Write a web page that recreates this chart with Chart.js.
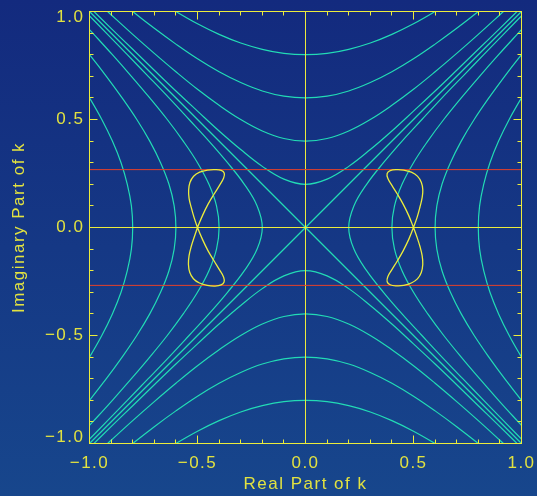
<!DOCTYPE html>
<html>
<head>
<meta charset="utf-8">
<script src="https://cdn.jsdelivr.net/npm/chart.js@4/dist/chart.umd.min.js"></script>
<style>
  html, body { margin: 0; padding: 0; }
  body {
    width: 537px; height: 496px; overflow: hidden;
    background: linear-gradient(to bottom, #132a7e 0%, #17468c 100%);
  }
  canvas { display: block; }
</style>
</head>
<body>
<canvas id="kplane" width="537" height="496"></canvas>
<script>
// Positions along each branch (the coordinate the branch opens along)
const sampleT = [-1.1, -1.0, -0.9, -0.8, -0.7, -0.6, -0.5, -0.4, -0.3, -0.2, -0.1, 0,
                  0.1, 0.2, 0.3, 0.4, 0.5, 0.6, 0.7, 0.8, 0.9, 1.0, 1.1];

// Distance of each contour branch from the axis, at the positions above
const branch02 = [1.118, 1.020, 0.922, 0.825, 0.728, 0.632, 0.539, 0.447, 0.361, 0.283, 0.224, 0.200,
                  0.224, 0.283, 0.361, 0.447, 0.539, 0.632, 0.728, 0.825, 0.922, 1.020, 1.118];
const branch04 = [1.170, 1.077, 0.985, 0.894, 0.806, 0.721, 0.640, 0.566, 0.500, 0.447, 0.412, 0.400,
                  0.412, 0.447, 0.500, 0.566, 0.640, 0.721, 0.806, 0.894, 0.985, 1.077, 1.170];
const branch06 = [1.253, 1.166, 1.082, 1.000, 0.922, 0.849, 0.781, 0.721, 0.671, 0.632, 0.608, 0.600,
                  0.608, 0.632, 0.671, 0.721, 0.781, 0.849, 0.922, 1.000, 1.082, 1.166, 1.253];
const branch08 = [1.360, 1.281, 1.204, 1.131, 1.063, 1.000, 0.943, 0.894, 0.854, 0.825, 0.806, 0.800,
                  0.806, 0.825, 0.854, 0.894, 0.943, 1.000, 1.063, 1.131, 1.204, 1.281, 1.360];

// Asymptotes (Re k = ±Im k)
const diagEnds = [-1, 1];

// Figure-eight root loop on the positive real side
const rightLoopX = [0.500, 0.478, 0.452, 0.425, 0.400, 0.381, 0.378, 0.392, 0.420, 0.455, 0.490, 0.518, 0.536, 0.543, 0.540, 0.530, 0.517, 0.500,
                    0.478, 0.452, 0.425, 0.400, 0.381, 0.378, 0.392, 0.420, 0.455, 0.490, 0.518, 0.536, 0.543, 0.540, 0.530, 0.516, 0.500];
const rightLoopY = [0.000, 0.055, 0.108, 0.155, 0.195, 0.228, 0.250, 0.263, 0.268, 0.266, 0.256, 0.238, 0.210, 0.175, 0.138, 0.095, 0.048, 0.000,
                    -0.055, -0.108, -0.155, -0.195, -0.228, -0.251, -0.265, -0.270, -0.268, -0.257, -0.238, -0.208, -0.170, -0.130, -0.088, -0.044, 0.000];

// Figure-eight root loop on the negative real side
const leftLoopX = [-0.500, -0.477, -0.451, -0.423, -0.398, -0.379, -0.376, -0.390, -0.418, -0.454, -0.490, -0.518, -0.535, -0.541, -0.539, -0.529, -0.516, -0.500,
                   -0.477, -0.451, -0.423, -0.398, -0.379, -0.377, -0.391, -0.419, -0.455, -0.491, -0.519, -0.536, -0.542, -0.539, -0.529, -0.515, -0.500];
const leftLoopY = [0.000, 0.055, 0.108, 0.155, 0.195, 0.229, 0.251, 0.264, 0.268, 0.266, 0.256, 0.237, 0.208, 0.172, 0.135, 0.093, 0.047, 0.000,
                   -0.055, -0.108, -0.155, -0.196, -0.230, -0.252, -0.266, -0.271, -0.268, -0.257, -0.237, -0.207, -0.170, -0.130, -0.088, -0.044, 0.000];

// Horizontal reference levels of Im k
const markerLevels = [0.268, -0.268];

// Axis tick values
const majorTicks = [-1.0, -0.5, 0.0, 0.5, 1.0];
const minorTicks = [-0.9, -0.8, -0.7, -0.6, -0.4, -0.3, -0.2, -0.1, 0.1, 0.2, 0.3, 0.4, 0.6, 0.7, 0.8, 0.9];

const CONTOUR = '#22dbb5';
const YELLOW = '#ecec3c';
const TEXT = '#e2e240';
const RED = '#e6402a';
const FONT = 'Liberation Sans';

function path(points, color, width, tension, order) {
  return {
    data: points, showLine: true, borderColor: color, borderWidth: width,
    tension: tension, pointRadius: 0, pointHoverRadius: 0, fill: false, order: order
  };
}

const datasets = [];
// loops on top
datasets.push(path(rightLoopX.map((v, i) => ({ x: v, y: rightLoopY[i] })), YELLOW, 1.3, 0.4, 0));
datasets.push(path(leftLoopX.map((v, i) => ({ x: v, y: leftLoopY[i] })), YELLOW, 1.3, 0.4, 0));
// reference levels and zero axes
markerLevels.forEach(level => {
  datasets.push(path(diagEnds.map(v => ({ x: v, y: level })), RED, 1, 0, 1));
});
datasets.push(path(diagEnds.map(v => ({ x: v, y: 0 })), YELLOW, 1, 0, 2));
datasets.push(path(diagEnds.map(v => ({ x: 0, y: v })), YELLOW, 1, 0, 2));
// contour branches
[branch02, branch04, branch06, branch08].forEach(b => {
  [1, -1].forEach(s => {
    datasets.push(path(sampleT.map((t, i) => ({ x: s * b[i], y: t })), CONTOUR, 1.2, 0.4, 3));
    datasets.push(path(sampleT.map((t, i) => ({ x: t, y: s * b[i] })), CONTOUR, 1.2, 0.4, 3));
  });
});
datasets.push(path(diagEnds.map(v => ({ x: v, y: v })), CONTOUR, 1.2, 0, 3));
datasets.push(path(diagEnds.map(v => ({ x: v, y: -v })), CONTOUR, 1.2, 0, 3));

function fmt(v) {
  const s = Math.abs(v).toFixed(1);
  return v < -1e-9 ? '\u2212' + s : s;
}

// wide, evenly spaced lettering for all axis text
const letterSpacing = {
  id: 'letterSpacing',
  beforeDraw(chart) { chart.ctx.letterSpacing = '1.5px'; }
};

// plot frame with inward ticks on all four sides
const frameTicks = {
  id: 'frameTicks',
  afterDatasetsDraw(chart) {
    const { ctx, chartArea: a, scales: { x, y } } = chart;
    const snap = p => Math.round(p - 0.5) + 0.5;
    ctx.save();
    ctx.strokeStyle = YELLOW;
    ctx.lineWidth = 1;
    ctx.strokeRect(a.left, a.top, a.right - a.left, a.bottom - a.top);
    ctx.beginPath();
    const mark = (v, len) => {
      const px = snap(x.getPixelForValue(v));
      const py = snap(y.getPixelForValue(v));
      ctx.moveTo(px, a.bottom); ctx.lineTo(px, a.bottom - len);
      ctx.moveTo(px, a.top); ctx.lineTo(px, a.top + len);
      ctx.moveTo(a.left, py); ctx.lineTo(a.left + len, py);
      ctx.moveTo(a.right, py); ctx.lineTo(a.right - len, py);
    };
    minorTicks.forEach(v => mark(v, 4));
    majorTicks.forEach(v => mark(v, 8));
    ctx.stroke();
    ctx.restore();
  }
};

// fixed axis box sizes, no extra room for overhanging end labels
function fixBox(size, horizontal) {
  return s => {
    if (horizontal) { s.height = size; } else { s.width = size; }
    s.paddingLeft = 0; s.paddingRight = 0; s.paddingTop = 0; s.paddingBottom = 0;
  };
}

new Chart(document.getElementById('kplane'), {
  type: 'scatter',
  data: { datasets },
  plugins: [letterSpacing, frameTicks],
  options: {
    responsive: false,
    devicePixelRatio: 1,
    animation: false,
    events: [],
    layout: { padding: { top: 11.5, right: 15.5, left: 0, bottom: 0 } },
    plugins: { legend: { display: false }, tooltip: { enabled: false } },
    scales: {
      x: {
        type: 'linear', position: 'bottom', min: -1, max: 1,
        grid: { display: false, drawTicks: false },
        border: { display: false },
        afterBuildTicks: s => { s.ticks = majorTicks.map(v => ({ value: v })); },
        afterFit: fixBox(52.5, true),
        ticks: {
          color: TEXT, padding: 9.5, maxRotation: 0, autoSkip: false,
          font: { family: FONT, size: 17 },
          callback: v => fmt(v)
        },
        title: {
          display: true, text: 'Real Part of k', color: TEXT,
          font: { family: FONT, size: 17 }, padding: { top: 0, bottom: 1.2 }
        }
      },
      y: {
        type: 'linear', position: 'left', min: -1, max: 1,
        grid: { display: false, drawTicks: false },
        border: { display: false },
        afterBuildTicks: s => { s.ticks = majorTicks.map(v => ({ value: v })); },
        afterFit: fixBox(89.5, false),
        ticks: {
          color: TEXT, padding: 5, autoSkip: false,
          font: { family: FONT, size: 17, lineHeight: '12.6px' },
          // end labels sit just inside the frame
          callback: v => v >= 1 ? ['', fmt(v)] : (v <= -1 ? [fmt(v), ''] : fmt(v))
        },
        title: {
          display: true, text: 'Imaginary Part of k', color: TEXT,
          font: { family: FONT, size: 17 }, padding: { top: 8.8, bottom: 0 }
        }
      }
    }
  }
});
</script>
</body>
</html>
